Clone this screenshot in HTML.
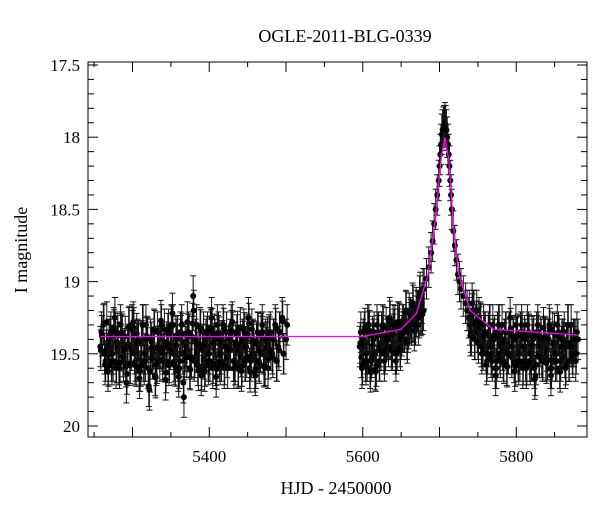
<!DOCTYPE html>
<html><head><meta charset="utf-8"><style>
body{margin:0;background:#fff}
svg{display:block;font-family:"Liberation Serif",serif}
</style></head><body>
<svg id="c" width="600" height="512" viewBox="0 0 600 512">
<text x="345" y="42" text-anchor="middle" font-size="18">OGLE-2011-BLG-0339</text>
<text x="336" y="494" text-anchor="middle" font-size="18">HJD - 2450000</text>
<text transform="translate(27,250) rotate(-90)" text-anchor="middle" font-size="18">I magnitude</text>
<g id="ticks"></g>
<g id="pts"></g>
<polyline id="model" fill="none" stroke="#ff00ff" stroke-width="1.3"/>
<rect x="88" y="62" width="499" height="375" fill="none" stroke="#000" stroke-width="1"/>
</svg>
<script>
const xTickLabels=[5400,5600,5800];
const yTickLabels=[17.5,18,18.5,19,19.5,20];
const s1Times=[5258,5262,5265,5268,5271,5274,5277,5280,5283,5286,5289,5292,5295,5298,5301,5304,5307,5310,5313,5316,5319,5322,5325,5328,5331,5334,5337,5340,5343,5346,5349,5352,5355,5358,5361,5364,5367,5370,5373,5376,5379,5382,5385,5388,5391,5394,5397,5400,5403,5406,5409,5412,5415,5418,5421,5424,5427,5430,5433,5436,5439,5442,5445,5448,5451,5454,5457,5460,5463,5466,5469,5472,5475,5478,5482,5486,5490,5495,5500];
const s1MagsA=[19.45,19.3,19.55,19.62,19.38,19.5,19.25,19.42,19.6,19.35,19.48,19.7,19.32,19.45,19.28,19.55,19.4,19.62,19.3,19.5,19.38,19.75,19.42,19.33,19.58,19.45,19.27,19.5,19.68,19.36,19.44,19.22,19.55,19.4,19.6,19.3,19.8,19.45,19.35,19.52,19.1,19.4,19.58,19.32,19.47,19.62,19.38,19.5,19.25,19.43,19.66,19.35,19.5,19.3,19.45,19.6,19.4,19.28,19.55,19.37,19.48,19.62,19.33,19.45,19.25,19.55,19.4,19.65,19.35,19.48,19.3,19.58,19.42,19.37,19.5,19.3,19.45,19.25,19.4];
const s1MagsB=[19.35,19.5,19.28,19.4,19.55,19.32,19.6,19.45,19.3,19.52,19.38,19.45,19.58,19.3,19.5,19.36,19.62,19.42,19.55,19.3,19.6,19.4,19.5,19.65,19.35,19.55,19.48,19.33,19.42,19.58,19.3,19.5,19.38,19.62,19.35,19.5,19.42,19.28,19.6,19.38,19.55,19.3,19.45,19.65,19.35,19.4,19.55,19.32,19.6,19.4,19.3,19.55,19.42,19.6,19.35,19.45,19.3,19.55,19.42,19.6,19.32,19.4,19.55,19.38,19.6,19.33,19.5,19.42,19.55,19.36,19.5,19.4,19.6,19.35,19.4,19.55,19.35,19.5,19.3];
const s2Times=[5596,5599,5602,5605,5608,5611,5614,5617,5620,5623,5626,5629,5632,5635,5638,5641,5644,5647,5650,5653,5656,5659,5662,5665,5668,5671,5674,5677,5738,5741,5744,5747,5750,5753,5756,5759,5762,5765,5768,5771,5774,5777,5780,5783,5786,5789,5792,5795,5798,5801,5804,5807,5810,5813,5816,5819,5822,5825,5828,5831,5834,5837,5840,5843,5846,5849,5852,5855,5858,5861,5864,5867,5870,5873,5876,5879];
const s2MagsA=[19.45,19.6,19.35,19.5,19.3,19.55,19.4,19.62,19.35,19.45,19.3,19.5,19.38,19.25,19.45,19.33,19.5,19.28,19.4,19.3,19.2,19.35,19.25,19.15,19.3,19.2,19.1,19.15,19.25,19.35,19.2,19.3,19.4,19.28,19.45,19.35,19.55,19.3,19.5,19.4,19.6,19.3,19.45,19.55,19.35,19.5,19.25,19.45,19.62,19.38,19.5,19.3,19.45,19.6,19.35,19.5,19.4,19.65,19.3,19.45,19.55,19.38,19.48,19.3,19.6,19.42,19.5,19.35,19.55,19.4,19.6,19.3,19.45,19.5,19.4,19.35];
const s2MagsB=[19.35,19.4,19.55,19.3,19.6,19.38,19.5,19.3,19.55,19.35,19.5,19.32,19.45,19.4,19.3,19.5,19.28,19.45,19.3,19.35,19.4,19.22,19.3,19.28,19.18,19.3,19.22,19.05,19.3,19.15,19.4,19.2,19.25,19.45,19.3,19.5,19.35,19.45,19.3,19.6,19.35,19.5,19.3,19.4,19.58,19.35,19.5,19.4,19.3,19.55,19.35,19.6,19.4,19.3,19.55,19.38,19.6,19.35,19.5,19.4,19.32,19.55,19.4,19.6,19.35,19.5,19.3,19.6,19.4,19.35,19.45,19.55,19.3,19.4,19.55,19.4];
const peakTimes=[5676,5680,5683,5686,5689,5691,5693,5695,5697,5699,5700,5701,5702,5703,5704,5705,5706,5707,5708,5709,5710,5711,5712,5713,5714,5715,5716,5718,5720,5722,5724,5726,5728,5731,5734,5736];
const peakMags=[19.2,19.05,18.98,18.9,18.8,18.72,18.6,18.5,18.4,18.3,18.2,18.12,18.05,17.98,17.95,17.93,17.92,17.9,17.92,17.95,18.0,18.05,18.12,18.2,18.3,18.4,18.5,18.65,18.75,18.85,18.95,19.0,19.05,19.1,19.15,19.2];
const modelTimes=[5258,5600,5650,5670,5685,5695,5702,5707,5712,5718,5725,5740,5770,5880];
const modelMags=[19.38,19.38,19.33,19.22,18.95,18.55,18.15,18.0,18.15,18.6,18.95,19.2,19.33,19.37];
const errSize=0.14;

const NS="http://www.w3.org/2000/svg";
const X=t=>88+(t-5242)*0.7675;
const Y=m=>65+(m-17.5)*144.4;
const tk=document.getElementById('ticks');
function ln(g,x1,y1,x2,y2,c,w){const l=document.createElementNS(NS,'line');l.setAttribute('x1',x1);l.setAttribute('y1',y1);l.setAttribute('x2',x2);l.setAttribute('y2',y2);l.setAttribute('stroke',c);l.setAttribute('stroke-width',w);g.appendChild(l);return l;}
for(let t=5250;t<=5890;t+=50){const x=X(t),L=(t%100==0)?10:5;ln(tk,x,437,x,437-L,'#000',1);ln(tk,x,62,x,62+L,'#000',1);}
for(let i=0;i<=25;i++){const m=17.5+i*0.1,y=Y(m),L=(i%5==0)?10:6;ln(tk,88,y,88+L,y,'#000',1);ln(tk,587,y,587-L,y,'#000',1);}
xTickLabels.forEach(v=>{const t=document.createElementNS(NS,'text');t.setAttribute('x',X(v));t.setAttribute('y',462);t.setAttribute('text-anchor','middle');t.setAttribute('font-size','17');t.textContent=v;


tk.appendChild(t);});
yTickLabels.forEach(v=>{const t=document.createElementNS(NS,'text');t.setAttribute('x',80);t.setAttribute('y',Y(v)+6);t.setAttribute('text-anchor','end');t.setAttribute('font-size','17');t.textContent=v;


tk.appendChild(t);});
const pg=document.getElementById('pts');
function pt(t,m){const x=X(t),y1=Y(m-errSize),y2=Y(m+errSize);
ln(pg,x,y1,x,y2,'#111',1);ln(pg,x-3,y1,x+3,y1,'#111',1);ln(pg,x-3,y2,x+3,y2,'#111',1);
const c=document.createElementNS(NS,'circle');c.setAttribute('cx',x);c.setAttribute('cy',Y(m));c.setAttribute('r',3);c.setAttribute('fill','#000');


pg.appendChild(c);}
function season(ts,a,b){for(let i=0;i<ts.length;i++){if(a[i]!==undefined)pt(ts[i],a[i]);if(b[i]!==undefined)pt(ts[i]+1.5,b[i]);
if(a[i]!==undefined&&b[i+1]!==undefined)pt(ts[i]+0.8,(a[i]+b[i+1])/2);
if(b[i]!==undefined&&a[i+1]!==undefined)pt(ts[i]+2.2,(b[i]+a[i+1])/2+0.05);}}
season(s1Times,s1MagsA,s1MagsB);
season(s2Times,s2MagsA,s2MagsB);
peakTimes.forEach((t,i)=>pt(t,peakMags[i]));
document.getElementById('model').setAttribute('points',modelTimes.map((t,i)=>X(t)+','+Y(modelMags[i])).join(' '));
</script>
</body></html>
